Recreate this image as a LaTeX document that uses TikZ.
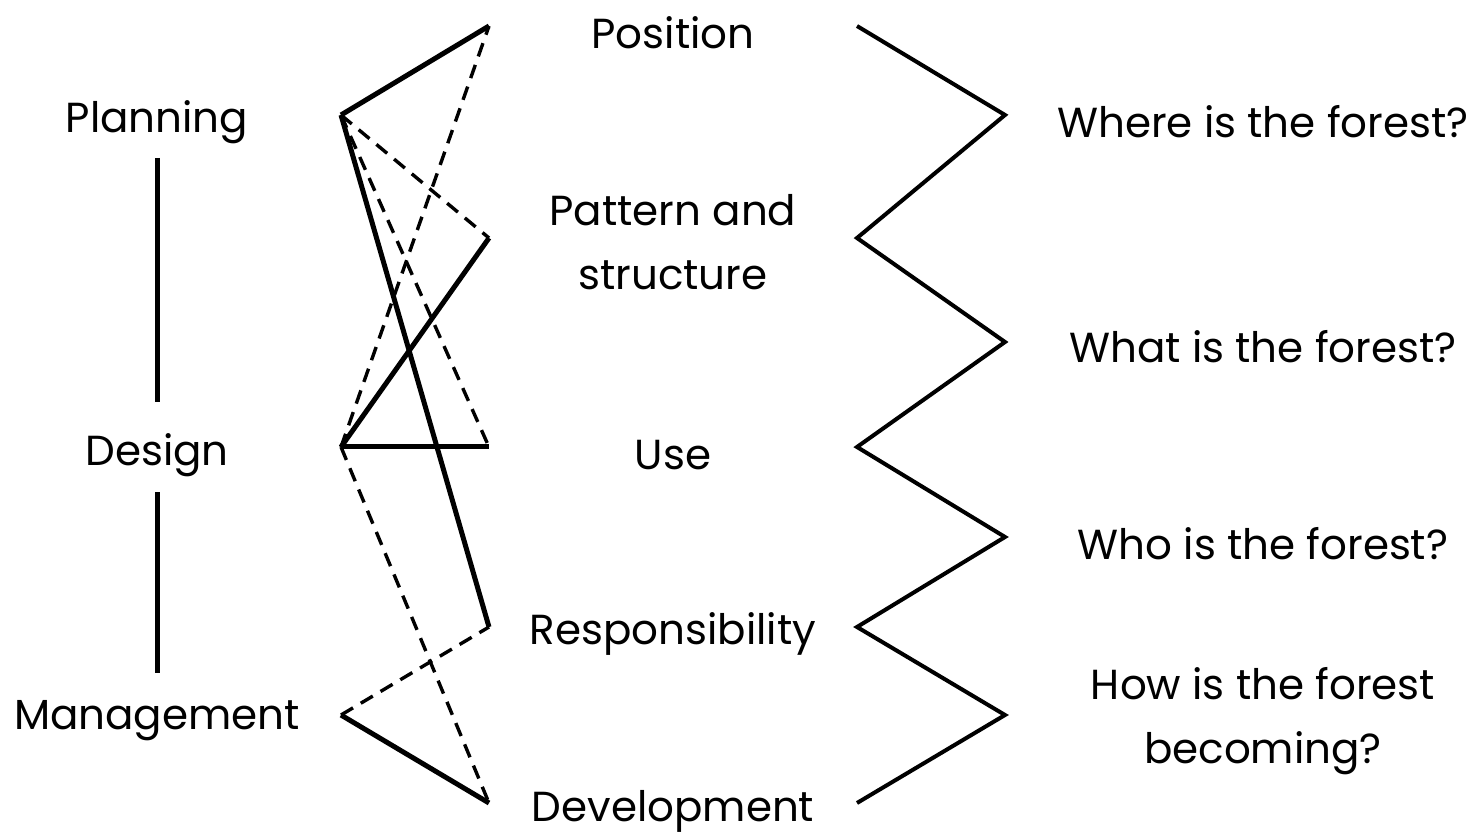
\documentclass[tikz,border=0pt]{standalone}
\usepackage{fontspec}
\setmainfont{Poppins}
\begin{document}
\begin{tikzpicture}[x=0.5pt,y=-0.5pt,
  lbl/.style={inner sep=0pt,align=center,font=\fontsize{21}{32}\selectfont},
  solidln/.style={line width=2.5pt,line cap=butt,line join=miter},
  dashln/.style={line width=1.7pt,dash pattern=on 7pt off 4.5pt},
  zig/.style={line width=2pt,line join=miter}]
\useasboundingbox (0,0) rectangle (1481,833);
% left labels
\node[lbl] (plan) at (157,122) {Planning};
\node[lbl] (design) at (157,455) {Design};
\node[lbl] (mgmt) at (157,721) {Management};
\coordinate (v1a) at (157,158); \coordinate (v1b) at (157,402);
\coordinate (v2a) at (157,492); \coordinate (v2b) at (157,673);
\draw[solidln] (v1a) -- (v1b);
\draw[solidln] (v2a) -- (v2b);
% middle labels
\node[lbl] (pos) at (673,33) {Position};
\node[lbl] (pat) at (673,242) {Pattern and\\structure};
\node[lbl] (use) at (673,455) {Use};
\node[lbl] (resp) at (673,634) {Responsibility};
\node[lbl] (dev) at (673,811) {Development};
% right labels
\node[lbl] (q1) at (1263,122) {Where is the forest?};
\node[lbl] (q2) at (1263,347) {What is the forest?};
\node[lbl] (q3) at (1263,544) {Who is the forest?};
\node[lbl] (q4) at (1263,721) {How is the forest\\becoming?};
% junctions
\coordinate (P) at (341,115);
\coordinate (D) at (341,447);
\coordinate (M) at (341,715);
\coordinate (e1) at (489,26);
\coordinate (e2) at (489,238);
\coordinate (e3) at (489,447);
\coordinate (e4) at (489,627);
\coordinate (e5) at (489,803);
% connections
\draw[dashln] (P) -- (e2);
\draw[dashln] (P) -- (e3);
\draw[dashln] (D) -- (e1);
\draw[dashln] (D) -- (e5);
\draw[dashln] (M) -- (e4);
\draw[solidln] (P) -- (e1);
\draw[solidln] (P) -- (e4);
\draw[solidln] (D) -- (e2);
\draw[solidln] (D) -- (e3);
\draw[solidln] (M) -- (e5);
% zigzag
\coordinate (z1) at (857,26);
\coordinate (z2) at (1005,115);
\coordinate (z3) at (857,238);
\coordinate (z4) at (1005,342);
\coordinate (z5) at (857,447);
\coordinate (z6) at (1005,537);
\coordinate (z7) at (857,627);
\coordinate (z8) at (1005,715);
\coordinate (z9) at (857,803);
\draw[zig] (z1) -- (z2) -- (z3) -- (z4) -- (z5) -- (z6) -- (z7) -- (z8) -- (z9);
\end{tikzpicture}
\end{document}
